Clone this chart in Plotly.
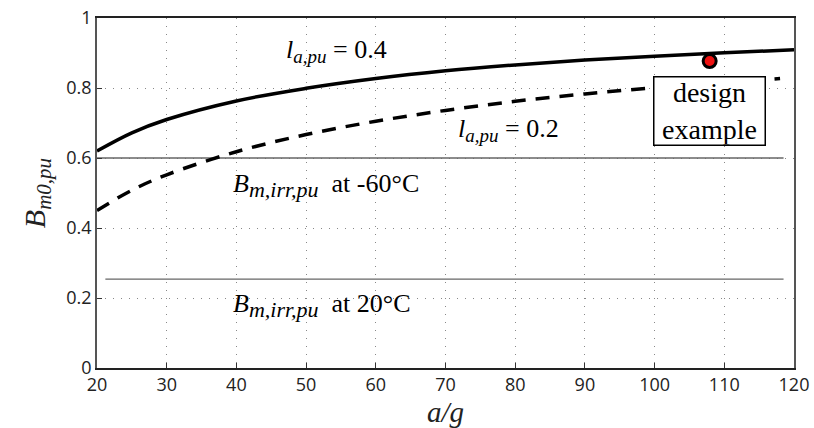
import plotly.graph_objects as go

# data
ag = [20, 25, 30, 40, 50, 60, 70, 80, 90, 100, 110, 120]
b_la04 = [0.620, 0.672, 0.710, 0.763, 0.799, 0.827, 0.849, 0.866, 0.880, 0.891, 0.901, 0.909]
ag_dash = [20, 25, 30, 40, 50, 60, 70, 80, 90, 100, 110, 118]
b_la02 = [0.450, 0.508, 0.552, 0.618, 0.667, 0.705, 0.736, 0.762, 0.783, 0.801, 0.816, 0.827]
irr_x = [20, 118.5]
irr_m60 = [0.600, 0.600]
irr_x2 = [21.2, 118.5]
irr_20 = [0.254, 0.254]
design_x = [107.9]
design_y = [0.877]
xticks = [20, 30, 40, 50, 60, 70, 80, 90, 100, 110, 120]
yticks = [0, 0.2, 0.4, 0.6, 0.8, 1]
ytick_text = ["0", "0.2", "0.4", "0.6", "0.8", "1"]

serif = "Liberation Serif, Times New Roman, serif"
sans = "Open Sans, Noto Sans, sans-serif"

fig = go.Figure()
fig.add_trace(go.Scatter(x=irr_x, y=irr_m60, mode="lines",
                         line=dict(color="#666666", width=1.3), showlegend=False))
fig.add_trace(go.Scatter(x=irr_x2, y=irr_20, mode="lines",
                         line=dict(color="#666666", width=1.3), showlegend=False))
fig.add_trace(go.Scatter(x=ag, y=b_la04, mode="lines", line_shape="spline",
                         line=dict(color="black", width=3.5), showlegend=False))
fig.add_trace(go.Scatter(x=ag_dash, y=b_la02, mode="lines", line_shape="spline",
                         line=dict(color="black", width=3.5, dash="14px,10px"), showlegend=False))
fig.add_trace(go.Scatter(x=design_x, y=design_y, mode="markers",
                         marker=dict(color="#ee1111", size=13,
                                     line=dict(color="black", width=3)),
                         showlegend=False))

lsub = '<sub><span style="font-size:19px"><i>a,pu</i></span></sub>'
bsub = '<sub><span style="font-size:22px"><i>m,irr,pu</i></span></sub>'

ann = []
ann.append(dict(x=54.3, y=0.905, text="<i>l</i>" + lsub + " = 0.4",
                showarrow=False, font=dict(family=serif, size=26, color="black")))
ann.append(dict(x=79.0, y=0.68, text="<i>l</i>" + lsub + " = 0.2",
                showarrow=False, font=dict(family=serif, size=26, color="black")))
ann.append(dict(x=39.2, y=0.522, xanchor="left",
                text="<i>B</i>" + bsub + "  at -60°C",
                showarrow=False, font=dict(family=serif, size=26, color="black")))
ann.append(dict(x=39.2, y=0.178, xanchor="left",
                text="<i>B</i>" + bsub + "  at 20°C",
                showarrow=False, font=dict(family=serif, size=26, color="black")))
ann.append(dict(x=107.9, y=0.734, text="design<br>example", showarrow=False,
                font=dict(family=serif, size=28, color="black"),
                bordercolor="black", borderwidth=1.5, borderpad=0,
                bgcolor="white", width=110, height=67))
ann.append(dict(x=70, xref="x", y=-0.126, yref="paper", yanchor="middle",
                text="<i>a/g</i>", showarrow=False,
                font=dict(family=serif, size=29, color="#222222")))

fig.update_layout(
    width=814, height=428,
    margin=dict(l=97, r=20, t=18, b=60),
    paper_bgcolor="white", plot_bgcolor="white",
    annotations=ann,
    xaxis=dict(range=[20, 120], tickvals=xticks, showgrid=True, automargin=False,
               gridcolor="#888888", griddash="1px,7px", gridwidth=1,
               showline=True, linecolor="#222222", linewidth=1.5, mirror=True,
               ticks="inside", ticklen=5, tickcolor="#333333",
               tickfont=dict(family=sans, size=18, color="#222222"),
               zeroline=False),
    yaxis=dict(range=[0, 1], tickvals=yticks, ticktext=ytick_text, showgrid=True,
               automargin=False,
               gridcolor="#888888", griddash="1px,7px", gridwidth=1,
               showline=True, linecolor="#555555", linewidth=1.5, mirror=True,
               ticks="inside", ticklen=5, tickcolor="#333333",
               tickfont=dict(family=sans, size=18, color="#222222"),
               zeroline=False,
               title=dict(text="<i>B</i><sub><i>m0,pu</i></sub>",
                          font=dict(family=serif, size=30, color="#222222"), standoff=12)),
)

fig.write_html("out.html")
